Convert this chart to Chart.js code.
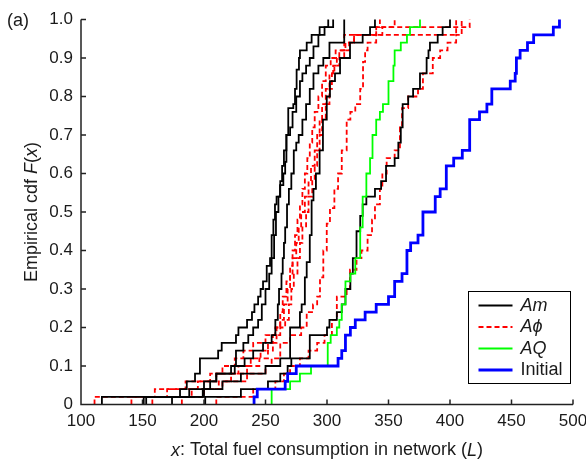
<!DOCTYPE html>
<html>
<head>
<meta charset="utf-8">
<script src="https://cdn.jsdelivr.net/npm/chart.js@4.4.0/dist/chart.umd.min.js"></script>
<style>
  html, body { margin: 0; padding: 0; background: #fff; }
</style>
</head>
<body>
<canvas id="cdfChart" width="586" height="461"></canvas>
<script>
// ---- data: [x, F(x)] at each step of the empirical cdf ----
const xTicks = [100, 150, 200, 250, 300, 350, 400, 450, 500];
const yTicks = [0, 0.1, 0.2, 0.3, 0.4, 0.5, 0.6, 0.7, 0.8, 0.9, 1.0];
const yTickLabels = ['0', '0.1', '0.2', '0.3', '0.4', '0.5', '0.6', '0.7', '0.8', '0.9', '1.0'];
const seriesNames = ['Am', 'A\u03D5', 'AQ', 'Initial'];

// Am runs (black)
const am1 = [[117,0],[117,0.02],[180.5,0.04],[186,0.06],[192.7,0.08],[196.7,0.12],[211.5,0.14],[214.4,0.16],[226,0.18],[228,0.20],[235,0.22],[239,0.24],[241,0.26],[244,0.28],[246,0.30],[248,0.32],[251,0.36],[253.7,0.38],[255,0.44],[256.4,0.48],[257.7,0.52],[259,0.54],[261.8,0.57],[264.5,0.60],[266,0.63],[267,0.70],[268.5,0.77],[272.6,0.78],[274,0.82],[275.3,0.87],[277.2,0.90],[278,0.92],[283.5,0.94],[287.5,0.96],[294,0.98],[301,1.0]];
const am2 = [[151,0],[151,0.02],[199,0.04],[205,0.06],[210,0.08],[222,0.10],[226,0.14],[232,0.16],[236,0.18],[240,0.20],[244,0.22],[247,0.26],[250,0.30],[253,0.34],[255,0.38],[257,0.44],[258.5,0.50],[260.5,0.54],[262,0.58],[263.5,0.62],[265,0.66],[267,0.70],[270,0.72],[272,0.76],[275,0.80],[278,0.84],[280,0.86],[283,0.88],[286,0.90],[289,0.93],[293,0.96],[298,0.98],[305,1.0]];
const am3 = [[153,0],[153,0.02],[188,0.04],[200,0.06],[210,0.08],[225,0.10],[233,0.12],[240,0.14],[248,0.16],[255,0.18],[258,0.22],[260,0.26],[261,0.30],[263,0.34],[264,0.38],[265,0.42],[266,0.46],[267.5,0.52],[269,0.56],[271,0.60],[273,0.66],[275,0.68],[277,0.70],[280,0.74],[283,0.78],[286,0.82],[289,0.86],[293,0.88],[297,0.90],[302,0.94],[314,0.96],[314,1.0]];
const am4 = [[174,0],[174,0.02],[200,0.04],[215,0.06],[230,0.08],[250,0.10],[262,0.12],[270,0.20],[278,0.24],[279.4,0.26],[282,0.33],[283.5,0.37],[286,0.44],[287.5,0.53],[289,0.56],[291,0.60],[294,0.66],[296.7,0.74],[299.8,0.80],[302.4,0.84],[306.5,0.86],[310.6,0.90],[318.7,0.94],[329,0.96],[335,0.98],[339,1.0]];
const am5 = [[201,0],[201,0.02],[230,0.04],[252,0.06],[262,0.08],[268,0.10],[271,0.12],[286,0.18],[300,0.20],[302,0.22],[308,0.24],[312,0.26],[315,0.30],[319,0.34],[321,0.38],[324,0.45],[327,0.49],[329,0.52],[332,0.54],[339,0.56],[344,0.58],[348,0.62],[355,0.64],[358,0.68],[360,0.72],[361.5,0.78],[366,0.80],[370,0.82],[375.6,0.86],[381,0.90],[382.5,0.92],[383.7,0.94],[390,0.96],[394,0.98],[400,1.0]];

// A-phi runs (red dashed)
const ap1 = [[111,0],[111,0.02],[160,0.04],[185,0.06],[205,0.08],[215,0.10],[225,0.12],[232,0.14],[240,0.16],[250,0.18],[258,0.20],[262,0.22],[265,0.26],[268,0.30],[270,0.34],[272,0.38],[275,0.42],[277,0.46],[279,0.50],[282,0.54],[285,0.58],[287,0.62],[290,0.66],[292,0.70],[294,0.74],[296,0.78],[299,0.82],[302,0.86],[305,0.88],[308,0.90],[310,0.92],[314,0.96],[340,0.98],[416,1.0]];
const ap2 = [[141,0],[141,0.02],[170,0.04],[195,0.06],[210,0.08],[228,0.10],[238,0.12],[246,0.14],[252,0.16],[256,0.18],[262,0.20],[266,0.22],[269,0.26],[271,0.30],[273,0.34],[276,0.38],[278,0.42],[280,0.46],[283,0.50],[285,0.54],[288,0.58],[290,0.62],[292,0.66],[294,0.70],[296,0.74],[299,0.78],[302,0.82],[304,0.86],[306,0.88],[310,0.90],[314,0.92],[318,0.94],[322,0.96],[405,1.0]];
const ap3 = [[158,0],[158,0.02],[190,0.04],[215,0.06],[235,0.08],[250,0.10],[255,0.12],[262,0.16],[270,0.18],[279,0.20],[283.5,0.24],[288.6,0.26],[292,0.28],[294.3,0.33],[297,0.40],[299.8,0.47],[302.4,0.51],[306,0.56],[309,0.60],[312,0.66],[316,0.74],[319,0.76],[323,0.78],[327,0.82],[329.3,0.89],[331,0.92],[333,0.94],[340,0.98],[343,1.0]];
const ap4 = [[182,0],[182,0.02],[200,0.04],[212,0.06],[222,0.08],[235,0.10],[245,0.12],[252,0.14],[256,0.16],[259,0.20],[262,0.24],[264,0.28],[267,0.32],[270,0.36],[272,0.40],[274,0.44],[276,0.48],[278,0.52],[280,0.56],[282,0.60],[284,0.64],[286,0.68],[288,0.72],[290,0.76],[293,0.80],[296,0.84],[299,0.88],[303,0.90],[307,0.92],[315,0.94],[322,0.96],[345,0.98],[355,1.0]];
const ap5 = [[210,0],[210,0.02],[240,0.04],[258,0.06],[265,0.08],[270,0.10],[278,0.12],[285,0.14],[292,0.16],[298,0.18],[304,0.22],[308,0.28],[316,0.30],[318.7,0.35],[324,0.38],[328,0.40],[333,0.44],[336.6,0.48],[339,0.52],[343,0.56],[345,0.60],[348.5,0.64],[355,0.66],[359.3,0.72],[361,0.77],[366,0.80],[374,0.82],[378,0.86],[386,0.90],[392,0.92],[398,0.94],[405,0.96],[409.5,1.0]];

// AQ run (green)
const aq1 = [[255,0],[255,0.04],[270,0.06],[278,0.08],[287,0.10],[300.6,0.16],[303,0.18],[308,0.20],[310,0.22],[312,0.26],[315,0.32],[319,0.34],[323,0.38],[327,0.46],[329,0.54],[332,0.60],[335,0.64],[337,0.70],[340,0.74],[343,0.76],[345.5,0.78],[350,0.84],[354,0.88],[355,0.92],[360,0.94],[365,0.96],[367.5,0.98],[375.6,1.0]];

// Initial (blue)
const initial = [[240.7,0],[240.7,0.02],[243.3,0.04],[266,0.06],[268,0.08],[275,0.10],[309,0.12],[312,0.14],[315,0.18],[319,0.20],[323,0.22],[331,0.24],[340,0.26],[350,0.28],[355,0.32],[361,0.34],[365,0.40],[368,0.42],[374,0.44],[378,0.50],[388,0.54],[392,0.56],[397,0.62],[403,0.64],[410,0.66],[416,0.74],[424,0.76],[430,0.78],[434,0.82],[449,0.84],[453,0.86],[454,0.90],[457,0.92],[463,0.94],[468,0.96],[484,0.98],[489,1.0]];

const FONT = '"Liberation Sans", Arial, "DejaVu Sans", sans-serif';
const INK = '#1a1a1a';

function run(data, color, width, dash, order) {
    return {
        data: data,
        borderColor: color,
        backgroundColor: color,
        borderWidth: width,
        borderDash: dash,
        stepped: 'before',
        pointRadius: 0,
        fill: false,
        clip: 4,
        order: order
    };
}

// write a string made of [text, italic] pieces, anchored at its centre
function drawPieces(ctx, pieces, cx, cy, size) {
    let total = 0;
    pieces.forEach(p => {
        ctx.font = (p[1] ? 'italic ' : '') + size + 'px ' + FONT;
        total += ctx.measureText(p[0]).width;
    });
    let x = cx - total / 2;
    ctx.textAlign = 'left';
    ctx.textBaseline = 'middle';
    pieces.forEach(p => {
        ctx.font = (p[1] ? 'italic ' : '') + size + 'px ' + FONT;
        ctx.fillText(p[0], x, cy);
        x += ctx.measureText(p[0]).width;
    });
}

const frame = {
    id: 'frame',
    afterDraw(chart) {
        const ctx = chart.ctx;
        const a = chart.chartArea;
        const sx = chart.scales.x, sy = chart.scales.y;
        ctx.save();
        // axes with inward ticks
        ctx.strokeStyle = '#222';
        ctx.lineWidth = 1.5;
        ctx.beginPath();
        ctx.moveTo(a.left, a.top);
        ctx.lineTo(a.left, a.bottom);
        ctx.lineTo(a.right, a.bottom);
        xTicks.forEach(v => {
            const px = sx.getPixelForValue(v);
            ctx.moveTo(px, a.bottom);
            ctx.lineTo(px, a.bottom - 5);
        });
        yTicks.forEach(v => {
            const py = sy.getPixelForValue(v);
            ctx.moveTo(a.left, py);
            ctx.lineTo(a.left + 5, py);
        });
        ctx.stroke();

        // tick labels
        ctx.fillStyle = INK;
        ctx.font = '17px ' + FONT;
        ctx.textBaseline = 'middle';
        ctx.textAlign = 'center';
        xTicks.forEach(v => ctx.fillText(String(v), sx.getPixelForValue(v), a.bottom + 17));
        ctx.textAlign = 'right';
        yTicks.forEach((v, i) => ctx.fillText(yTickLabels[i], a.left - 8, sy.getPixelForValue(v)));

        // axis titles
        drawPieces(ctx, [['x', true], [': Total fuel consumption in network (', false], ['L', true], [')', false]],
            (a.left + a.right) / 2, a.bottom + 46, 18);
        ctx.save();
        ctx.translate(32, (a.top + a.bottom) / 2);
        ctx.rotate(-Math.PI / 2);
        drawPieces(ctx, [['Empirical cdf ', false], ['F', true], ['(', false], ['x', true], [')', false]], 0, 0, 18);
        ctx.restore();

        // panel label
        ctx.font = '18px ' + FONT;
        ctx.textAlign = 'left';
        ctx.fillText('(a)', 7, 21);

        // legend
        const box = { x: 468.5, y: 291.5, w: 102, h: 92 };
        ctx.fillStyle = '#fff';
        ctx.fillRect(box.x, box.y, box.w, box.h);
        ctx.strokeStyle = '#000';
        ctx.lineWidth = 1;
        ctx.strokeRect(box.x, box.y, box.w, box.h);
        const legendStyle = [
            { color: '#000000', width: 1.8, dash: [], italic: true },
            { color: '#ff0000', width: 1.8, dash: [5, 3], italic: true },
            { color: '#00ff00', width: 1.8, dash: [], italic: true },
            { color: '#0000ff', width: 2.8, dash: [], italic: false }
        ];
        seriesNames.forEach((name, i) => {
            const yy = box.y + 14 + i * 21.5;
            const st = legendStyle[i];
            ctx.strokeStyle = st.color;
            ctx.lineWidth = st.width;
            ctx.setLineDash(st.dash);
            ctx.beginPath();
            ctx.moveTo(box.x + 10, yy);
            ctx.lineTo(box.x + 44, yy);
            ctx.stroke();
            ctx.setLineDash([]);
            ctx.fillStyle = INK;
            ctx.font = (st.italic ? 'italic ' : '') + '18px ' + FONT;
            ctx.textAlign = 'left';
            ctx.textBaseline = 'middle';
            ctx.fillText(name, box.x + 52, yy);
        });
        ctx.restore();
    }
};

const dash = [5, 3];
new Chart(document.getElementById('cdfChart'), {
    type: 'line',
    data: {
        datasets: [
            run(initial, '#0000ff', 2.8, [], 1),
            run(aq1, '#00ff00', 1.8, [], 2),
            run(am1, '#000000', 1.8, [], 3),
            run(am2, '#000000', 1.8, [], 3),
            run(am3, '#000000', 1.8, [], 3),
            run(am4, '#000000', 1.8, [], 3),
            run(am5, '#000000', 1.8, [], 3),
            run(ap1, '#ff0000', 1.8, dash, 4),
            run(ap2, '#ff0000', 1.8, dash, 4),
            run(ap3, '#ff0000', 1.8, dash, 4),
            run(ap4, '#ff0000', 1.8, dash, 4),
            run(ap5, '#ff0000', 1.8, dash, 4)
        ]
    },
    options: {
        responsive: false,
        animation: false,
        events: [],
        layout: { padding: { left: 0, right: 13, top: 19.5, bottom: 0 } },
        plugins: { legend: { display: false }, tooltip: { enabled: false } },
        scales: {
            x: {
                type: 'linear', min: 100, max: 500,
                grid: { display: false }, border: { display: false },
                ticks: { display: false },
                afterFit(s) { s.height = 56.5; }
            },
            y: {
                type: 'linear', min: 0, max: 1,
                grid: { display: false }, border: { display: false },
                ticks: { display: false },
                afterFit(s) { s.width = 81; }
            }
        }
    },
    plugins: [frame]
});
</script>
</body>
</html>
